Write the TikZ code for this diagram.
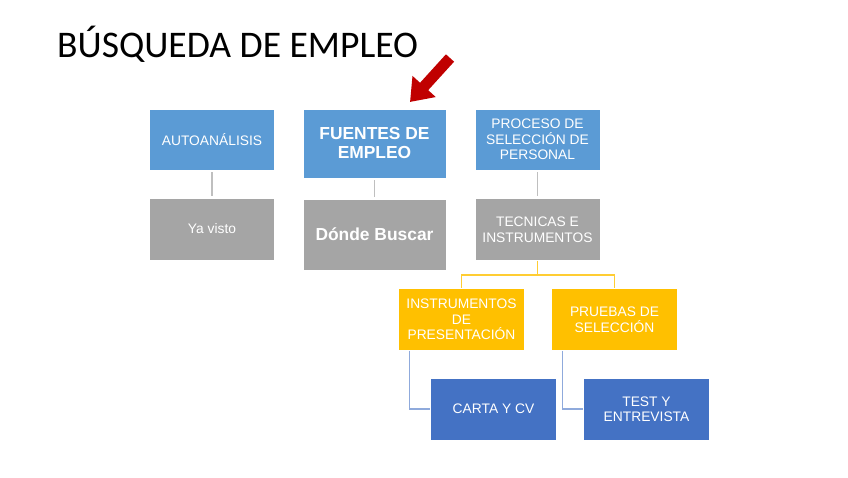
\documentclass[tikz,border=0pt]{standalone}
\usepackage{fontspec}
\setmainfont{Liberation Sans}
\newfontfamily\titlefont{Carlito}
\usetikzlibrary{arrows.meta}
\definecolor{lblue}{HTML}{5B9BD5}
\definecolor{dblue}{HTML}{4472C4}
\definecolor{mgray}{HTML}{A5A5A5}
\definecolor{lgray}{HTML}{BFBFBF}
\definecolor{ygold}{HTML}{FFC000}
\definecolor{ylight}{HTML}{FFCD33}
\definecolor{lblueline}{HTML}{8FAADC}
\definecolor{dred}{HTML}{C00000}
\begin{document}
\begin{tikzpicture}[x=1pt,y=-1pt,
  box/.style={draw=white,line width=0.8pt,text=white,align=center,inner sep=0pt,font=\fontsize{13.8}{15.5}\selectfont},
  bluebox/.style={box,fill=lblue,minimum width=125pt,minimum height=61pt},
  graybox/.style={box,fill=mgray,minimum width=125pt,minimum height=62pt},
  yelbox/.style={box,fill=ygold,minimum width=126pt,minimum height=62pt},
  dbox/.style={box,fill=dblue,minimum width=126pt,minimum height=62pt},
  bigfont/.style={font=\fontsize{17.4}{19}\selectfont\bfseries},
  gline/.style={draw=lgray,line width=1.2pt},
  yline/.style={draw=ylight,line width=1.2pt},
  bline/.style={draw=lblueline,line width=1.2pt}]
\useasboundingbox (0,0) rectangle (848,477);
\node[anchor=base west,font=\titlefont\fontsize{37.6}{39}\selectfont,inner sep=0pt] (title) at (57,57) {BÚSQUEDA DE EMPLEO};

\node[bluebox] (auto) at (212,139.5) {AUTOANÁLISIS};
\node[graybox] (ya) at (212,229) {Ya visto};
\node[bluebox,bigfont,minimum width=143pt,minimum height=69pt] (fuentes) at (374.5,143.5) {FUENTES DE\\EMPLEO};
\node[graybox,bigfont,minimum width=143pt,minimum height=71pt] (donde) at (374.5,234.5) {Dónde Buscar};
\node[bluebox] (proceso) at (537.5,139.5) {PROCESO DE\\SELECCIÓN DE\\PERSONAL};
\node[graybox] (tecnicas) at (537.5,229.5) {TECNICAS E\\INSTRUMENTOS};
\node[yelbox] (instr) at (461.5,319.5) {INSTRUMENTOS\\DE\\PRESENTACIÓN};
\node[yelbox] (pruebas) at (614.5,319.5) {PRUEBAS DE\\SELECCIÓN};
\node[dbox] (carta) at (493.5,409) {CARTA Y CV};
\node[dbox] (test) at (646.5,409) {TEST Y\\ENTREVISTA};

\draw[gline] ([yshift=-2pt]auto.south) -- ([yshift=2pt]ya.north);
\draw[gline] ([yshift=-2pt]fuentes.south) -- ([yshift=2pt]donde.north);
\draw[gline] ([yshift=-2pt]proceso.south) -- ([yshift=2pt]tecnicas.north);
\draw[yline] (tecnicas.south) -- ++(0,14) -| (instr.north);
\draw[yline] (tecnicas.south) -- ++(0,14) -| (pruebas.north);
\draw[bline] ([xshift=11pt]instr.south west) |- (carta.west);
\draw[bline] ([xshift=11pt]pruebas.south west) |- (test.west);

\coordinate (atail) at (450,58);
\coordinate (atip) at (410,102);
\draw[dred,line width=11pt,-{Triangle[width=30pt,length=21pt]}] (atail) -- (atip);
\end{tikzpicture}
\end{document}
